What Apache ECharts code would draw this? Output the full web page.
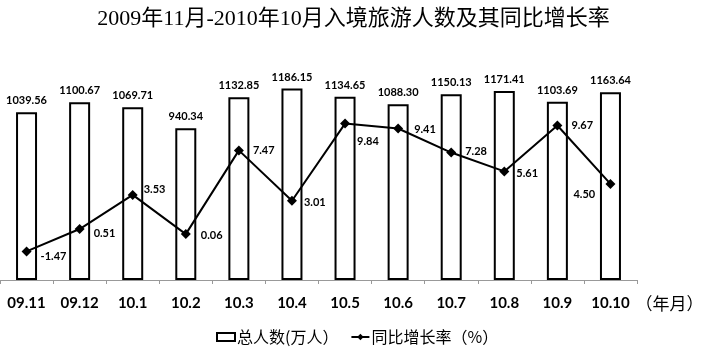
<!DOCTYPE html>
<html><head><meta charset="utf-8">
<script src="https://cdn.jsdelivr.net/npm/echarts@6/dist/echarts.min.js"></script>
<style>html,body{margin:0;padding:0;background:#fff}#c{width:707px;height:356px}</style>
</head><body><div id="c"></div>
<script>
const categories = ['09.11','09.12','10.1','10.2','10.3','10.4','10.5','10.6','10.7','10.8','10.9','10.10'];
const totalVisitors = [1039.56,1100.67,1069.71,940.34,1132.85,1186.15,1134.65,1088.30,1150.13,1171.41,1103.69,1163.64];
const growthRate = [-1.47,0.51,3.53,0.06,7.47,3.01,9.84,9.41,7.28,5.61,9.67,4.50];
const titleText = '2009年11月-2010年10月入境旅游人数及其同比增长率';
const barName = '总人数(万人）';
const lineName = '同比增长率（%）';

// label placement (style only): [x from point centre to label start, y shift]
const lineLabelShift = [[14,5],[14,4],[11,-5],[15,1],[14,0],[12,2],[12,18],[16,1],[14,-1],[12,2],[14,0],[-37,11]];
const SYM = 10;

const chart = echarts.init(document.getElementById('c'), null, {renderer:'canvas'});
const labelFont = 'Lato, "Liberation Sans", sans-serif';
chart.setOption({
  animation:false,
  backgroundColor:'#fff',
  title:{text:titleText,left:'center',top:3,textStyle:{fontFamily:'"Liberation Serif","Noto Sans CJK SC",serif',fontSize:22,fontWeight:'normal',color:'#000'}},
  legend:{bottom:6,left:211,itemGap:12,itemWidth:18,itemHeight:8,
    textStyle:{fontFamily:'"Noto Sans CJK SC",sans-serif',fontSize:16,color:'#000',padding:[0,0,0,-3]},
    data:[{name:barName,icon:'rect'},{name:lineName}]},
  grid:{left:0,right:70,top:54,bottom:76,containLabel:false},
  xAxis:{type:'category',data:categories,boundaryGap:true,
    name:'（年月）',nameLocation:'end',nameGap:-11,
    nameTextStyle:{fontFamily:'"Noto Sans CJK SC",sans-serif',fontSize:17,color:'#000',verticalAlign:'top',padding:[15,0,0,0]},
    axisLine:{lineStyle:{color:'#999',width:1}},
    axisTick:{show:true,length:4,inside:false,lineStyle:{color:'#999'}},
    axisLabel:{fontFamily:labelFont,fontWeight:'bold',fontSize:15,color:'#000',margin:16}},
  yAxis:[
    {type:'value',min:0,max:1400,show:false,splitLine:{show:false}},
    {type:'value',min:-4,max:16,show:false,splitLine:{show:false}}
  ],
  series:[
    {name:barName,type:'bar',yAxisIndex:0,data:totalVisitors,barWidth:21,
     itemStyle:{color:'#fff',borderColor:'#000',borderWidth:2},
     label:{show:true,position:'top',distance:6,formatter:p=>p.value.toFixed(2),fontFamily:labelFont,fontWeight:'bold',fontSize:11,color:'#000'}},
    {name:lineName,type:'line',yAxisIndex:1,z:5,
     data:growthRate.map((v,i)=>({value:v,label:{position:[lineLabelShift[i][0]+SYM/2, lineLabelShift[i][1]+SYM/2]}})),
     symbol:'diamond',symbolSize:SYM,
     lineStyle:{color:'#000',width:2},itemStyle:{color:'#000'},
     labelLayout:{hideOverlap:false,moveOverlap:false},
     label:{show:true,align:'left',verticalAlign:'middle',formatter:p=>p.value.toFixed(2),fontFamily:labelFont,fontWeight:'bold',fontSize:11,color:'#000'}}
  ]
});
</script></body></html>
